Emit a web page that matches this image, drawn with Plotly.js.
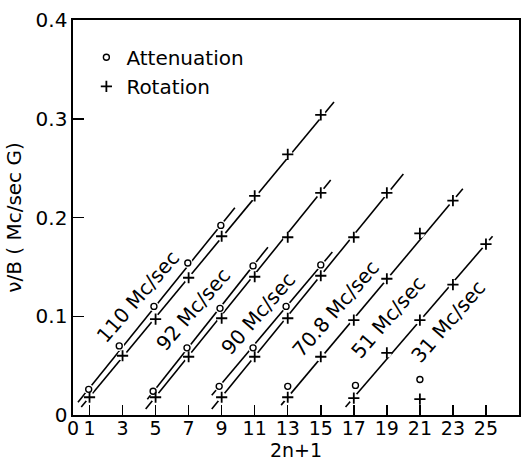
<!DOCTYPE html>
<html>
<head>
<meta charset="utf-8">
<script src="https://cdn.plot.ly/plotly-3.0.1.min.js"></script>
<style>html,body{margin:0;padding:0;background:#fff;}#chart{width:521px;height:462px;}</style>
</head>
<body>
<div id="chart"></div>
<script>
// ---- data (x = 2n+1, y = nu/B in Mc/sec G) ----
const frequencies = ['110', '92', '90', '70.8', '51', '31'];   // Mc/sec

const att110X = [0.95, 2.8, 4.9, 6.95, 8.95];
const att110Y = [0.026, 0.070, 0.110, 0.154, 0.192];
const rot110X = [1, 3, 5, 7, 9, 11, 13, 15];
const rot110Y = [0.018, 0.060, 0.097, 0.139, 0.181, 0.222, 0.264, 0.304];

const att92X = [4.85, 6.9, 8.9, 10.9];
const att92Y = [0.024, 0.068, 0.108, 0.151];
const rot92X = [5, 7, 9, 11, 13, 15];
const rot92Y = [0.018, 0.059, 0.098, 0.140, 0.180, 0.225];

const att90X = [8.85, 10.9, 12.9, 15];
const att90Y = [0.029, 0.068, 0.110, 0.152];
const rot90X = [9, 11, 13, 15, 17, 19];
const rot90Y = [0.018, 0.059, 0.098, 0.141, 0.180, 0.225];

const att708X = [13];
const att708Y = [0.029];
const rot708X = [13, 15, 17, 19, 21, 23];
const rot708Y = [0.018, 0.059, 0.096, 0.138, 0.184, 0.217];

const att51X = [17.1];
const att51Y = [0.030];
const rot51X = [17, 19, 21, 23, 25];
const rot51Y = [0.017, 0.063, 0.096, 0.132, 0.173];

const att31X = [21];
const att31Y = [0.036];
const rot31X = [21];
const rot31Y = [0.016];

// fitted straight lines: start / end points
const lineX0 = [0.3, 0.5, 4.5, 4.4, 8.4, 8.4, 12.6, 16.5];
const lineY0 = [0.013, 0.008, 0.016, 0.006, 0.020, 0.006, 0.010, 0.008];
const lineX1 = [9.8, 15.8, 11.8, 15.6, 15.7, 20.0, 23.6, 25.4];
const lineY1 = [0.210, 0.317, 0.170, 0.238, 0.165, 0.244, 0.229, 0.181];

const xTickVals = [0, 1, 3, 5, 7, 9, 11, 13, 15, 17, 19, 21, 23, 25];
const yTickVals = [0, 0.1, 0.2, 0.3, 0.4];
const yTickText = ['0', '0.1', '0.2', '0.3', '0.4'];

// ---- presentation ----
const FONT = 'DejaVu Sans, sans-serif';
const labelPos = [[3.9, 0.12], [7.3, 0.107], [11.25, 0.103], [15.95, 0.108], [19.1, 0.099], [22.75, 0.095]];

const attX = [].concat(att110X, att92X, att90X, att708X, att51X, att31X);
const attY = [].concat(att110Y, att92Y, att90Y, att708Y, att51Y, att31Y);
const rotX = [].concat(rot110X, rot92X, rot90X, rot708X, rot51X, rot31X);
const rotY = [].concat(rot110Y, rot92Y, rot90Y, rot708Y, rot51Y, rot31Y);

const traces = [];
for (let i = 0; i < lineX0.length; i++) {
  traces.push({
    x: [lineX0[i], lineX1[i]], y: [lineY0[i], lineY1[i]],
    mode: 'lines', line: {color: '#000', width: 1.6},
    showlegend: false, hoverinfo: 'skip'
  });
}
// white halos to give the gaps in the lines around each marker
traces.push({
  x: attX.concat(rotX), y: attY.concat(rotY), mode: 'markers',
  marker: {symbol: 'circle', size: 10, color: '#fff', line: {width: 0}},
  showlegend: false, hoverinfo: 'skip'
});
traces.push({
  x: attX, y: attY, mode: 'markers', name: 'Attenuation',
  marker: {symbol: 'circle', size: 6, color: '#fff', line: {color: '#000', width: 1.4}}
});
traces.push({
  x: rotX, y: rotY, mode: 'markers', name: 'Rotation',
  marker: {symbol: 'cross-thin', size: 8, color: '#000', line: {color: '#000', width: 1.8}}
});

const annotations = frequencies.map((f, i) => ({
  x: labelPos[i][0], y: labelPos[i][1], xref: 'x', yref: 'y',
  text: f + ' Mc/sec', showarrow: false, textangle: -49,
  font: {family: FONT, size: 20, color: '#000'},
  xanchor: 'center', yanchor: 'middle'
}));

const layout = {
  width: 521, height: 462,
  margin: {l: 73, r: 2, t: 20, b: 47, pad: 0},
  paper_bgcolor: '#fff', plot_bgcolor: '#fff',
  font: {family: FONT, size: 20, color: '#000'},
  showlegend: true,
  legend: {x: 0.03, y: 0.955, xanchor: 'left', yanchor: 'top', bgcolor: 'rgba(0,0,0,0)',
           font: {family: FONT, size: 20, color: '#000'}, itemwidth: 30, tracegroupgap: 0},
  xaxis: {
    range: [0, 27], tickmode: 'array', tickvals: xTickVals,
    ticks: 'inside', ticklen: 10, tickwidth: 1.5, tickcolor: '#000',
    showline: true, mirror: true, linecolor: '#000', linewidth: 1.6,
    showgrid: false, zeroline: false,
    tickfont: {family: FONT, size: 19}, ticklabelstandoff: -4,
    title: {text: '2n+1', font: {family: FONT, size: 19}, standoff: 0}
  },
  yaxis: {
    range: [0, 0.4], tickmode: 'array', tickvals: yTickVals, ticktext: yTickText,
    ticks: 'inside', ticklen: 11, tickwidth: 1.5, tickcolor: '#000',
    showline: true, mirror: true, linecolor: '#000', linewidth: 1.6,
    showgrid: false, zeroline: false,
    tickfont: {family: FONT, size: 20},
    title: {text: 'ν/B ( Mc/sec G)', font: {family: FONT, size: 20}, standoff: 8}
  },
  annotations: annotations
};

Plotly.newPlot('chart', traces, layout, {staticPlot: true, displayModeBar: false});
</script>
</body>
</html>
